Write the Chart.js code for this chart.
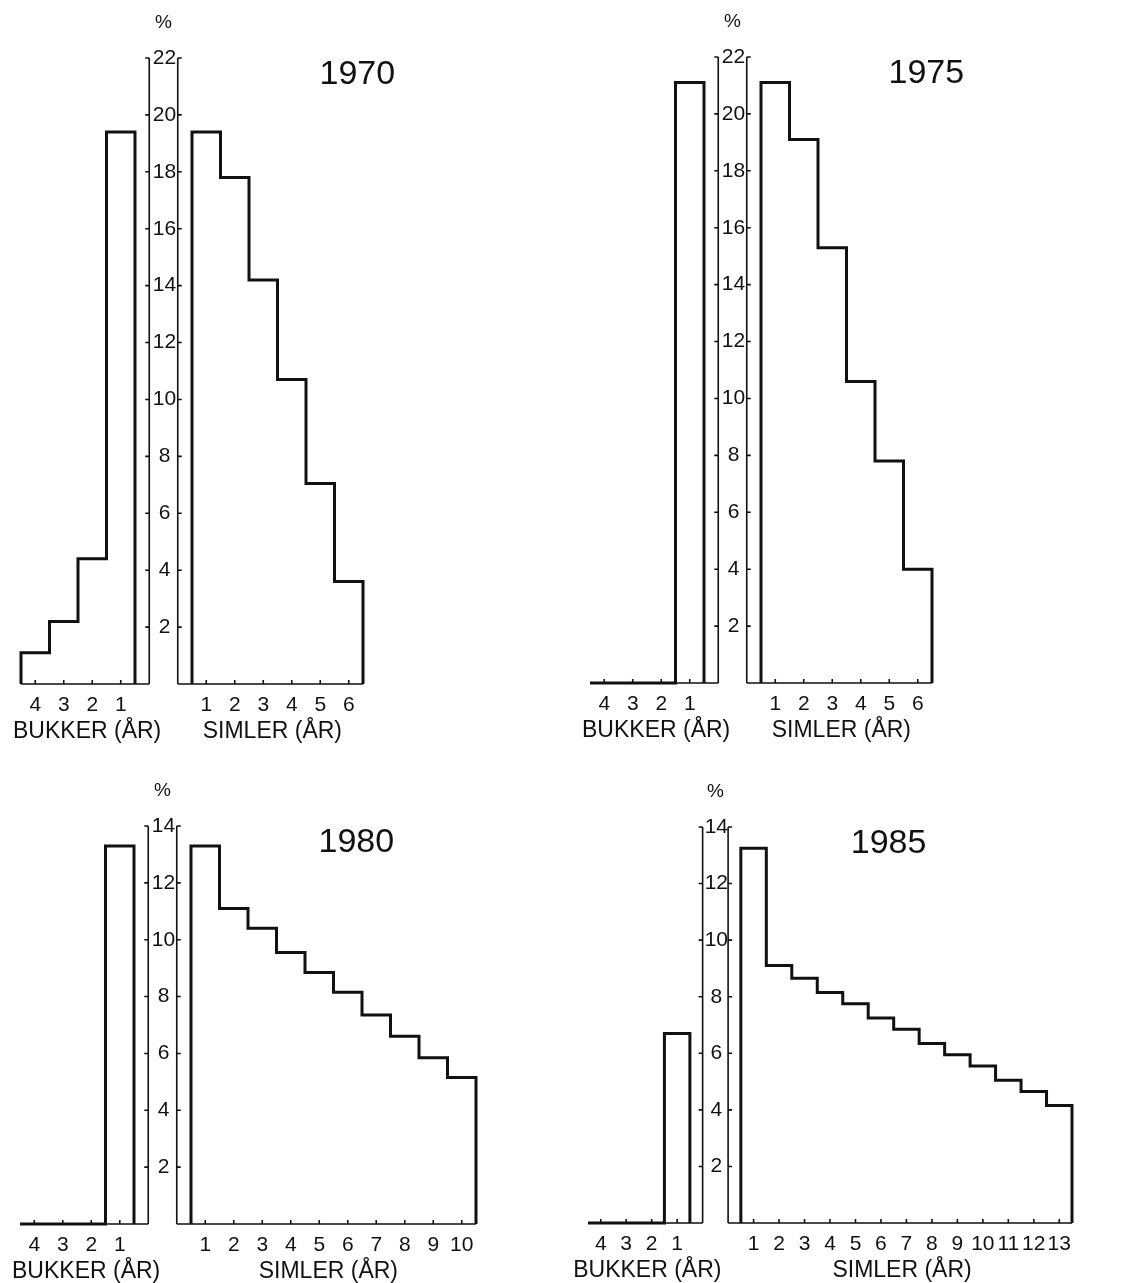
<!DOCTYPE html>
<html>
<head>
<meta charset="utf-8">
<title>Bukker og simler</title>
<script src="https://cdn.jsdelivr.net/npm/chart.js@4.4.1/dist/chart.umd.min.js"></script>
<style>
  html, body { margin: 0; padding: 0; background: #fff; }
  #wrap { position: relative; width: 1144px; height: 1283px; }
  canvas { position: absolute; }
</style>
</head>
<body>
<div id="wrap">
  <canvas id="c1970" width="572" height="770" style="left:0;top:0"></canvas>
  <canvas id="c1975" width="572" height="770" style="left:572px;top:0"></canvas>
  <canvas id="c1980" width="572" height="513" style="left:0;top:770px"></canvas>
  <canvas id="c1985" width="572" height="513" style="left:572px;top:770px"></canvas>
</div>
<script>
// percent of herd per age class, age 1 first
const years = ["1970", "1975", "1980", "1985"];
const bukkerAges = ["1", "2", "3", "4"];

const bukker1970 = [19.4, 4.4, 2.2, 1.1];
const simler1970 = [19.4, 17.8, 14.2, 10.7, 7.05, 3.6];

const bukker1975 = [21.1, 0, 0, 0];
const simler1975 = [21.1, 19.1, 15.3, 10.6, 7.8, 4.0];

const bukker1980 = [13.3, 0, 0, 0];
const simler1980 = [13.3, 11.1, 10.4, 9.55, 8.85, 8.15, 7.35, 6.6, 5.85, 5.15];

const bukker1985 = [6.7, 0, 0, 0];
const simler1985 = [13.25, 9.1, 8.65, 8.15, 7.75, 7.25, 6.85, 6.35, 5.95, 5.55, 5.05, 4.65, 4.15];

const pctTicks22 = [2, 4, 6, 8, 10, 12, 14, 16, 18, 20, 22];
const pctTicks14 = [2, 4, 6, 8, 10, 12, 14];

const INK = "#111";
const FONT = "'Liberation Sans', Arial, Helvetica, sans-serif";

// step outline: up from baseline, across each class, down at the end
function stepPoints(values, firstEdge) {
  const pts = [{ x: firstEdge, y: 0 }];
  values.forEach((v, i) => pts.push({ x: firstEdge + i, y: v }));
  pts.push({ x: firstEdge + values.length, y: 0 });
  return pts;
}

function outline(label, points) {
  return {
    label: label,
    data: points,
    stepped: "before",
    borderColor: INK,
    backgroundColor: INK,
    borderWidth: 3,
    borderJoinStyle: "miter",
    pointRadius: 0,
    fill: false,
    clip: false
  };
}

const panelAxes = {
  id: "panelAxes",
  beforeDatasetsDraw(chart, args, opts) {
    const { ctx, scales: { x, y } } = chart;
    const yb = y.getPixelForValue(0);
    const yt = y.getPixelForValue(y.max);
    const xl = x.getPixelForValue(-1);
    const xr = x.getPixelForValue(0);
    ctx.save();
    ctx.strokeStyle = INK;
    ctx.lineWidth = 1.6;
    ctx.beginPath();
    ctx.moveTo(xl, yt); ctx.lineTo(xl, yb);
    ctx.moveTo(xr, yt); ctx.lineTo(xr, yb);
    ctx.moveTo(x.getPixelForValue(x.min), yb); ctx.lineTo(xl, yb);
    ctx.moveTo(xr, yb); ctx.lineTo(x.getPixelForValue(x.max), yb);
    opts.pct.forEach(v => {
      const py = y.getPixelForValue(v);
      ctx.moveTo(xl, py); ctx.lineTo(xl - 4, py);
      ctx.moveTo(xr, py); ctx.lineTo(xr + 4, py);
    });
    opts.bukkerAges.forEach(a => {
      const px = x.getPixelForValue(-1 - Number(a));
      ctx.moveTo(px, yb); ctx.lineTo(px, yb - 4);
    });
    opts.simlerAges.forEach(a => {
      const px = x.getPixelForValue(Number(a));
      ctx.moveTo(px, yb); ctx.lineTo(px, yb - 4);
    });
    ctx.stroke();
    ctx.restore();
  },
  afterDraw(chart, args, opts) {
    const { ctx, chartArea, scales: { x, y } } = chart;
    const yb = y.getPixelForValue(0);
    const xl = x.getPixelForValue(-1);
    const xr = x.getPixelForValue(0);
    const xm = (xl + xr) / 2;
    ctx.save();
    ctx.fillStyle = INK;
    ctx.textAlign = "center";
    ctx.textBaseline = "middle";

    ctx.font = "21px " + FONT;
    opts.pct.forEach(v => ctx.fillText(String(v), xm + 1, y.getPixelForValue(v)));

    ctx.font = "21px " + FONT;
    opts.bukkerAges.forEach(a => ctx.fillText(a, x.getPixelForValue(-1 - Number(a)), yb + 21));
    opts.simlerAges.forEach(a => ctx.fillText(a, x.getPixelForValue(Number(a)), yb + 21));

    ctx.font = "23px " + FONT;
    ctx.fillText("BUKKER (ÅR)", (x.getPixelForValue(x.min) + xl) / 2 + 2, yb + 48);
    ctx.fillText("SIMLER (ÅR)", (xr + x.getPixelForValue(x.max)) / 2 + 2, yb + 48);

    ctx.font = "19px " + FONT;
    ctx.fillText("%", xm, chartArea.top - 35);

    ctx.font = "34px " + FONT;
    ctx.fillText(opts.year, x.getPixelForValue(6.3), chartArea.top + 17);
    ctx.restore();
  }
};

function drawPanel(canvasId, year, bukker, simler, pct, pad) {
  const simlerAges = simler.map((v, i) => String(i + 1));
  new Chart(canvasId, {
    type: "line",
    data: {
      datasets: [
        outline("Bukker", stepPoints(bukker.slice().reverse(), -1 - bukker.length - 0.5)),
        outline("Simler", stepPoints(simler, 0.5))
      ]
    },
    options: {
      responsive: false,
      animation: false,
      events: [],
      layout: { padding: pad },
      scales: {
        x: { type: "linear", min: -1 - bukker.length - 0.5, max: simler.length + 0.5, display: false },
        y: { min: 0, max: pct[pct.length - 1], display: false }
      },
      plugins: {
        legend: { display: false },
        tooltip: { enabled: false },
        colors: { enabled: false },
        panelAxes: { year: year, pct: pct, bukkerAges: bukkerAges, simlerAges: simlerAges }
      }
    },
    plugins: [panelAxes]
  });
}

drawPanel("c1970", years[0], bukker1970, simler1970, pctTicks22, { left: 21, right: 209, top: 58, bottom: 86 });
drawPanel("c1975", years[1], bukker1975, simler1975, pctTicks22, { left: 18, right: 212, top: 57, bottom: 87 });
drawPanel("c1980", years[2], bukker1980, simler1980, pctTicks14, { left: 20, right: 96, top: 56, bottom: 59 });
drawPanel("c1985", years[3], bukker1985, simler1985, pctTicks14, { left: 16, right: 72, top: 57, bottom: 60 });
</script>
</body>
</html>
